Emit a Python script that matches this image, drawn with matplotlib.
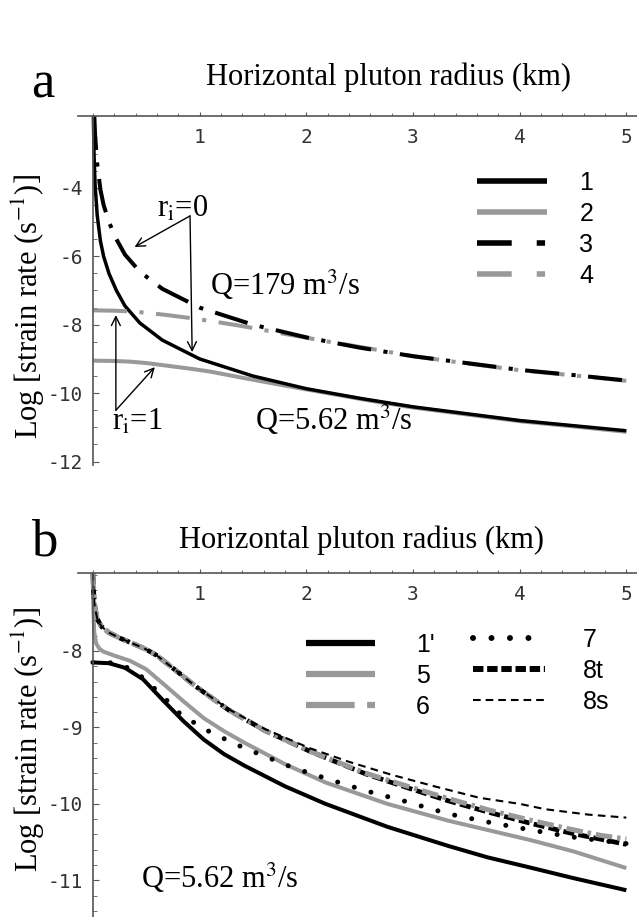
import matplotlib
matplotlib.use('Agg')
import matplotlib.pyplot as plt
from matplotlib.lines import Line2D
from matplotlib.ticker import FixedLocator

plt.rcParams['axes.unicode_minus'] = False
plt.rcParams['mathtext.fontset'] = 'stix'
plt.rcParams['lines.scale_dashes'] = False

GRAY = '#999999'
SERIF = 'Liberation Serif'
MONO = 'DejaVu Sans Mono'
SANS = 'Liberation Sans'

# ---- panel a data (x in km, y = log strain rate) ----
a1_x = [0.004, 0.01, 0.02, 0.04, 0.07, 0.1, 0.15, 0.22, 0.3, 0.44, 0.65, 1.0, 1.5, 2.0, 2.5, 3.0, 3.5, 4.0, 4.5, 5.0]
a1_y = [-1.9, -3.0, -3.9, -4.8, -5.55, -6.0, -6.5, -7.0, -7.45, -7.95, -8.45, -9.0, -9.5, -9.87, -10.15, -10.4, -10.6, -10.8, -10.95, -11.1]

a2_x = [0.0, 0.2, 0.35, 0.5, 0.7, 0.9, 1.1, 1.4, 1.8, 2.2, 2.6, 3.0, 3.5, 4.0, 4.5, 5.0]
a2_y = [-9.05, -9.06, -9.08, -9.12, -9.2, -9.28, -9.37, -9.55, -9.78, -10.0, -10.22, -10.42, -10.62, -10.82, -10.97, -11.13]

a3_x = [0.013, 0.02, 0.04, 0.07, 0.1, 0.15, 0.22, 0.3, 0.44, 0.65, 1.0, 1.5, 2.0, 2.5, 3.0, 3.5, 4.0, 4.5, 5.0]
a3_y = [-1.9, -2.45, -3.3, -4.05, -4.5, -5.0, -5.5, -5.95, -6.45, -6.95, -7.5, -8.0, -8.37, -8.67, -8.92, -9.12, -9.32, -9.47, -9.63]

a4_x = [0.0, 0.2, 0.35, 0.5, 0.7, 0.9, 1.1, 1.4, 1.8, 2.2, 2.6, 3.0, 3.5, 4.0, 4.5, 5.0]
a4_y = [-7.58, -7.59, -7.61, -7.65, -7.72, -7.8, -7.89, -8.04, -8.27, -8.49, -8.7, -8.92, -9.13, -9.33, -9.48, -9.64]

labels_a = ['1', '2', '3', '4']

# ---- panel b data ----
b1_x = [0.0, 0.15, 0.3, 0.47, 0.66, 0.85, 1.04, 1.23, 1.42, 1.8, 2.18, 2.76, 3.33, 3.7, 4.09, 4.5, 5.0]
b1_y = [-8.15, -8.16, -8.22, -8.37, -8.65, -8.92, -9.16, -9.35, -9.5, -9.77, -10.0, -10.3, -10.55, -10.7, -10.83, -10.97, -11.13]

b5_x = [0.0, 0.004, 0.012, 0.03, 0.06, 0.1, 0.2, 0.35, 0.5, 0.66, 0.85, 1.04, 1.23, 1.42, 1.8, 2.18, 2.76, 3.33, 4.09, 4.5, 5.0]
b5_y = [-6.98, -7.45, -7.75, -7.9, -7.97, -8.01, -8.06, -8.13, -8.24, -8.43, -8.66, -8.88, -9.05, -9.2, -9.48, -9.72, -10.0, -10.22, -10.47, -10.62, -10.84]

b6_x = [0.0, 0.005, 0.015, 0.04, 0.08, 0.15, 0.25, 0.37, 0.5, 0.6, 0.8, 0.96, 1.27, 1.61, 2.03, 2.56, 2.95, 3.33, 3.71, 4.09, 4.47, 4.75, 5.0]
b6_y = [-6.98, -7.2, -7.4, -7.58, -7.68, -7.76, -7.83, -7.9, -7.98, -8.06, -8.28, -8.46, -8.77, -9.04, -9.31, -9.6, -9.77, -9.93, -10.08, -10.21, -10.33, -10.41, -10.46]

b7_x = [0.0, 0.15, 0.3, 0.47, 0.66, 0.83, 1.11, 1.42, 1.88, 2.26, 2.56, 2.91, 3.33, 3.71, 4.02, 4.47, 5.0]
b7_y = [-8.15, -8.15, -8.2, -8.35, -8.6, -8.84, -9.07, -9.27, -9.53, -9.7, -9.83, -9.96, -10.13, -10.24, -10.32, -10.43, -10.52]

b8t_x = [0.0, 0.005, 0.015, 0.04, 0.08, 0.15, 0.25, 0.37, 0.5, 0.6, 0.8, 0.96, 1.27, 1.61, 2.03, 2.56, 2.95, 3.33, 3.71, 4.09, 4.47, 4.75, 5.0]
b8t_y = [-6.98, -7.2, -7.4, -7.58, -7.68, -7.76, -7.83, -7.9, -7.98, -8.06, -8.28, -8.46, -8.77, -9.04, -9.31, -9.61, -9.79, -9.96, -10.11, -10.25, -10.38, -10.46, -10.53]

b8s_x = [0.0, 0.005, 0.015, 0.04, 0.08, 0.15, 0.25, 0.37, 0.5, 0.6, 0.8, 0.96, 1.27, 1.61, 2.03, 2.4, 2.8, 3.2, 3.62, 4.0, 4.24, 4.64, 5.0]
b8s_y = [-6.98, -7.2, -7.4, -7.58, -7.68, -7.76, -7.83, -7.9, -7.98, -8.06, -8.28, -8.46, -8.76, -9.02, -9.27, -9.45, -9.62, -9.77, -9.92, -10.0, -10.07, -10.14, -10.18]

labels_b_left = ["1'", '5', '6']
labels_b_right = ['7', '8t', '8s']

x_major = [1, 2, 3, 4, 5]
x_minor = [0.2 * i for i in range(26)]
ya_major = [-12, -10, -8, -6, -4]
ya_minor = [-12 + 0.5 * i for i in range(20)]
yb_major = [-11, -10, -9, -8]
yb_minor = [-11.4 + 0.2 * i for i in range(23)]

DASHDOT_A = (0, (24.5, 9, 3, 9))
DASHDOT_B = (0, (12, 3.5, 2.5, 3.5))
DOTS = (0, (0.01, 12.5))
THICK_DASH = (0, (8, 3))
THIN_DASH = (0, (5.5, 3.8))


def style_axes(ax, ylim, major, minor):
    ax.set_xlim(-0.14, 5.1)
    ax.set_ylim(*ylim)
    for side in ['bottom', 'right']:
        ax.spines[side].set_visible(False)
    ax.spines['left'].set_position(('data', 0))
    for side in ['left', 'top']:
        ax.spines[side].set_color('#555555')
        ax.spines[side].set_linewidth(1.2)
    ax.xaxis.set_major_locator(FixedLocator(x_major))
    ax.xaxis.set_minor_locator(FixedLocator(x_minor))
    ax.yaxis.set_major_locator(FixedLocator(major))
    ax.yaxis.set_minor_locator(FixedLocator(minor))
    ax.tick_params(axis='x', which='both', top=True, bottom=False, labeltop=True,
                   labelbottom=False, direction='out', color='#555555')
    ax.tick_params(axis='x', which='major', length=3, pad=-25)
    ax.tick_params(axis='x', which='minor', length=2)
    ax.tick_params(axis='y', which='both', direction='in', color='#555555', pad=7)
    ax.tick_params(axis='y', which='major', length=4)
    ax.tick_params(axis='y', which='minor', length=3)
    for lab in ax.get_xticklabels() + ax.get_yticklabels():
        lab.set_fontfamily(MONO)
        lab.set_fontsize(14)
        lab.set_color('#333333')


fig = plt.figure(figsize=(6.37, 9.17), dpi=100)
ax_a = fig.add_axes([78 / 637, 1 - 465 / 917, 559 / 637, 349 / 917])
ax_b = fig.add_axes([78 / 637, 0, 559 / 637, 344 / 917])

# panel a curves
ax_a.plot(a2_x, a2_y, color=GRAY, lw=2.9, solid_capstyle='butt')
ax_a.plot(a1_x, a1_y, color='black', lw=2.5, solid_capstyle='butt')
ax_a.plot(a4_x, a4_y, color=GRAY, lw=2.9, ls=DASHDOT_A, dash_capstyle='butt')
ax_a.plot(a3_x, a3_y, color='black', lw=2.9, ls=DASHDOT_A, dash_capstyle='butt')
style_axes(ax_a, (-12.1, -1.9), ya_major, ya_minor)

handles_a = [Line2D([], [], color='black', lw=4, solid_capstyle='butt'),
             Line2D([], [], color=GRAY, lw=4, solid_capstyle='butt'),
             Line2D([], [], color='black', lw=4, ls=(0, (25, 18, 6, 20)), dash_capstyle='butt'),
             Line2D([], [], color=GRAY, lw=4, ls=(0, (25, 18, 6, 20)), dash_capstyle='butt')]
ax_a.legend(handles_a, labels_a, loc='upper left', bbox_to_anchor=(477 / 637, 1 - 171 / 917),
            bbox_transform=fig.transFigure, frameon=False, handlelength=2.8,
            handletextpad=1.3, labelspacing=0.28, borderpad=0, borderaxespad=0,
            prop={'family': SANS, 'size': 18})

arrow = dict(arrowstyle='->', color='black', lw=1, shrinkA=0, shrinkB=0, mutation_scale=16)
ax_a.text(0.6, -4.85, r'r$_{\rm i}$=0', fontsize=22, family=SERIF, va='baseline')
ax_a.annotate('', xy=(0.39, -5.73), xytext=(0.91, -4.82), arrowprops=arrow)
ax_a.annotate('', xy=(0.93, -8.8), xytext=(0.91, -4.82), arrowprops=arrow)
ax_a.text(1.1, -7.13, r'Q=179 m$^3$/s', fontsize=22, family=SERIF, va='baseline')
ax_a.text(0.18, -11.08, r'r$_{\rm i}$=1', fontsize=22, family=SERIF, va='baseline')
ax_a.annotate('', xy=(0.215, -7.72), xytext=(0.215, -10.5), arrowprops=arrow)
ax_a.annotate('', xy=(0.58, -9.24), xytext=(0.215, -10.5), arrowprops=arrow)
ax_a.text(1.52, -11.08, r'Q=5.62 m$^3$/s', fontsize=22, family=SERIF, va='baseline')

# panel b curves
ax_b.plot(b1_x, b1_y, color='black', lw=2.9, solid_capstyle='butt')
ax_b.plot(b5_x, b5_y, color=GRAY, lw=2.9, solid_capstyle='butt')
ax_b.plot(b8t_x, b8t_y, color='black', lw=3.4, ls=THICK_DASH, dash_capstyle='butt')
ax_b.plot(b6_x, b6_y, color=GRAY, lw=3.6, ls=DASHDOT_B, dash_capstyle='butt')
ax_b.plot(b7_x, b7_y, color='black', lw=3.6, ls=DOTS, dash_capstyle='round')
ax_b.plot(b8s_x, b8s_y, color='black', lw=1.5, ls=THIN_DASH, dash_capstyle='butt')
style_axes(ax_b, (-11.48, -6.98), yb_major, yb_minor)

handles_bl = [Line2D([], [], color='black', lw=4.5, solid_capstyle='butt'),
              Line2D([], [], color=GRAY, lw=4.5, solid_capstyle='butt'),
              Line2D([], [], color=GRAY, lw=4.5, ls=(0, (35, 9, 6, 10)), dash_capstyle='butt')]
handles_br = [Line2D([], [], color='black', lw=4.3, ls=(0, (0.01, 13.3)), dash_capstyle='round'),
              Line2D([], [], color='black', lw=4.3, ls=(0, (7.5, 2.7)), dash_capstyle='butt'),
              Line2D([], [], color='black', lw=1.5, ls=(0, (5.5, 3.6)), dash_capstyle='butt')]
leg_l = ax_b.legend(handles_bl, labels_b_left, loc='upper left',
                    bbox_to_anchor=(306 / 637, 1 - 633 / 917), bbox_transform=fig.transFigure,
                    frameon=False, handlelength=2.76, handletextpad=1.64, labelspacing=0.28,
                    borderpad=0, borderaxespad=0, prop={'family': SANS, 'size': 18})
ax_b.add_artist(leg_l)
ax_b.legend(handles_br, labels_b_right, loc='upper left',
            bbox_to_anchor=(473 / 637, 1 - 628 / 917), bbox_transform=fig.transFigure,
            frameon=False, handlelength=2.88, handletextpad=1.5, labelspacing=0.28,
            borderpad=0, borderaxespad=0, prop={'family': SANS, 'size': 18})

ax_b.text(0.45, -11.1, r'Q=5.62 m$^3$/s', fontsize=22, family=SERIF, va='baseline')

# titles, panel letters, y labels
fig.text(388 / 637, 1 - 77 / 917, 'Horizontal pluton radius (km)', ha='center', va='center',
         fontsize=22, family=SERIF)
fig.text(361 / 637, 1 - 540 / 917, 'Horizontal pluton radius (km)', ha='center', va='center',
         fontsize=22, family=SERIF)
fig.text(31 / 637, 1 - 97 / 917, 'a', fontsize=38, family=SERIF, va='baseline')
fig.text(31 / 637, 1 - 555 / 917, 'b', fontsize=38, family=SERIF, va='baseline')
ylab = r'Log [strain rate (s$^{-1}$)]'
fig.text(28 / 637, 1 - 307 / 917, ylab, rotation=90, ha='center', va='center',
         fontsize=22, family=SERIF)
fig.text(28 / 637, 1 - 740 / 917, ylab, rotation=90, ha='center', va='center',
         fontsize=22, family=SERIF)

fig.savefig('out.png', dpi=100, facecolor='white')
